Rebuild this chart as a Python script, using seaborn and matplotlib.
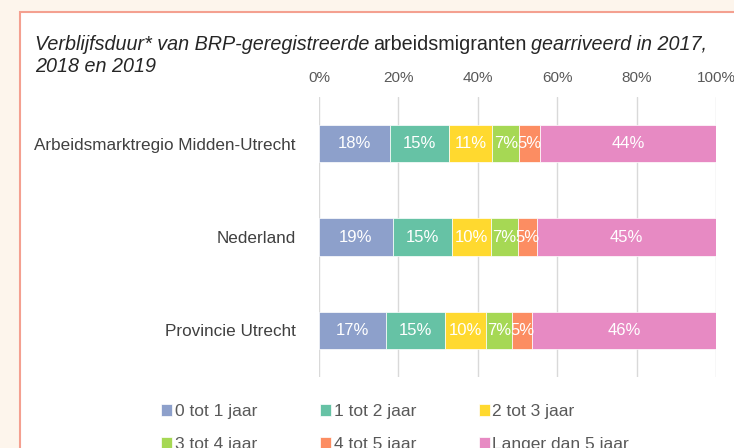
import matplotlib
matplotlib.use("Agg")
import matplotlib.pyplot as plt
import seaborn as sns
import pandas as pd
import numpy as np
from matplotlib.patches import Rectangle
from matplotlib import font_manager

regions = ["Arbeidsmarktregio Midden-Utrecht", "Nederland", "Provincie Utrecht"]
categories = ["0 tot 1 jaar", "1 tot 2 jaar", "2 tot 3 jaar", "3 tot 4 jaar", "4 tot 5 jaar", "Langer dan 5 jaar"]
v_0_1 = [17.9, 18.6, 16.9]
v_1_2 = [14.8, 14.8, 14.9]
v_2_3 = [11.0, 9.9, 10.3]
v_3_4 = [6.8, 6.7, 6.6]
v_4_5 = [5.1, 4.9, 5.0]
v_5p = [44.4, 45.1, 46.3]
xticks = [0, 20, 40, 60, 80, 100]
xtick_labels = ["0%", "20%", "40%", "60%", "80%", "100%"]
title_parts = [("Verblijfsduur* van BRP-geregistreerde", "italic"),
               ("arbeidsmigranten", "normal"),
               ("gearriveerd in 2017,", "italic")]
title_line2 = "2018 en 2019"

sns.set_theme(style="white")
names = [f.name for f in font_manager.fontManager.ttflist]
label_font = "Liberation Sans" if "Liberation Sans" in names else "DejaVu Sans"
title_font = label_font
plt.rcParams["font.family"] = [label_font, "DejaVu Sans"]

colors = ["#8DA0CB", "#66C2A5", "#FFD92F", "#A6D854", "#FC8D62", "#E78AC3"]
series = [v_0_1, v_1_2, v_2_3, v_3_4, v_4_5, v_5p]

fig = plt.figure(figsize=(7.34, 4.48), dpi=100)
fig.patch.set_facecolor("#FDF5EC")
W, H = 734, 448
box = Rectangle((20 / W, -0.1), 1.0, (H - 12) / H + 0.1, transform=fig.transFigure,
                facecolor="white", edgecolor="#F4A090", linewidth=1.5, zorder=-5)
fig.patches.append(box)

ax = fig.add_axes([319 / W, 1 - 377 / H, (716 - 319) / W, (377 - 97) / H])
ax.set_facecolor("none")
ax.set_zorder(2)

left = np.zeros(len(regions))
for k, (cat, vals, col) in enumerate(zip(categories, series, colors)):
    df = pd.DataFrame({"region": regions, "value": vals})
    sns.barplot(data=df, x="value", y="region", orient="h", color=col, ax=ax,
                width=0.4, saturation=1, label=cat, edgecolor="white", linewidth=0.5)
    for i, (l, v) in enumerate(zip(left, vals)):
        ax.text(l + v / 2, i, f"{v:.0f}%", ha="center", va="center", color="white",
                fontsize=12, zorder=10)
    for p, l in zip(ax.patches[-len(regions):], left):
        p.set_x(l)
    left = left + np.array(vals)

ax.set_xlim(0, 100)
ax.set_ylim(2.5, -0.5)
ax.set_xticks(xticks)
ax.set_xticklabels(xtick_labels)
ax.xaxis.tick_top()
ax.tick_params(axis="x", length=0, pad=9, labelsize=11, colors="#595959")
ax.tick_params(axis="y", length=0, pad=17, labelsize=12.3, colors="#404040")
ax.set_xlabel("")
ax.set_ylabel("")
for s in ax.spines.values():
    s.set_visible(False)
ax.grid(axis="x", color="#D9D9D9", linewidth=1, zorder=0)
ax.set_axisbelow(True)

handles, labels = ax.get_legend_handles_labels()
order = [0, 3, 1, 4, 2, 5]
ax.legend([handles[i] for i in order], [labels[i] for i in order], ncol=3,
          loc="upper left", bbox_to_anchor=(161 / W, 1 - 404 / H), bbox_transform=fig.transFigure,
          frameon=False, fontsize=12.5, handlelength=0.65, handleheight=0.65, handletextpad=0.15,
          columnspacing=3.6, labelspacing=1.05, labelcolor="#595959", borderpad=0, borderaxespad=0)

fig.canvas.draw()
r = fig.canvas.get_renderer()
x = 35
for txt, st in title_parts:
    t = fig.text(x / W, 1 - 45 / H, txt, fontsize=14.2, style=st, family=[title_font, "DejaVu Sans"],
                 color="#262626", va="center", ha="left")
    bb = t.get_window_extent(renderer=r)
    x = bb.x1 + 4
fig.text(35 / W, 1 - 67 / H, title_line2, fontsize=14.2, style="italic",
         family=[title_font, "DejaVu Sans"], color="#262626", va="center", ha="left")

fig.savefig("out.png", dpi=100, facecolor=fig.get_facecolor())
